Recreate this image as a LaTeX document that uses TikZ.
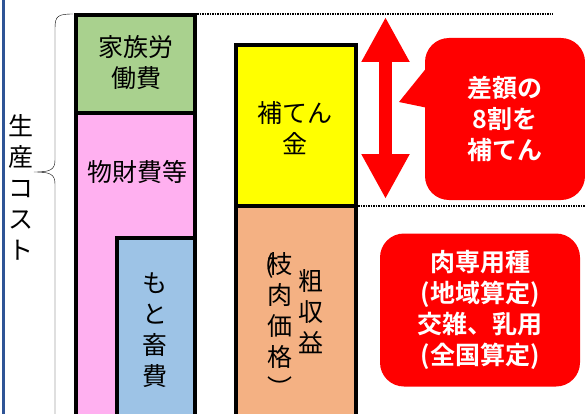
\documentclass[tikz,border=0pt]{standalone}
\usepackage{fontspec}
\setmainfont{Noto Sans CJK JP}[BoldFont={Noto Sans CJK JP Bold}]
\usepackage{xcolor}
\usetikzlibrary{arrows.meta, positioning}
\definecolor{cost_green}{RGB}{169, 209, 142}
\definecolor{cost_pink}{RGB}{255, 176, 240}
\definecolor{cost_blue}{RGB}{157, 195, 230}
\definecolor{aid_yellow}{RGB}{255, 255, 0}
\definecolor{income_orange}{RGB}{244, 177, 131}
\definecolor{note_red}{RGB}{255, 0, 0}
\definecolor{edge_blue}{RGB}{47, 84, 150}
\begin{document}
\begin{tikzpicture}[x=1pt, y=-1pt,
            lbl/.style={align=center, inner sep=0pt,
                        font=\fontsize{25}{31}\selectfont},
            bar/.style={draw=black, line width=4pt},
            note/.style={fill=note_red, rounded corners=24pt, text=white,
                         align=center, inner sep=0pt,
                         font=\fontsize{25}{31}\selectfont\bfseries},
            guide/.style={line width=2pt, dash pattern=on 1.5pt off 1pt}]
            \useasboundingbox (0,0) rectangle (585,414);
            \clip (0,0) rectangle (585,414);
            \draw[line width=3pt, edge_blue] (3.5,0) -- (3.5,414);
            \fill[cost_pink] (76,113) rectangle (195,420);
            \fill[cost_green] (76,15) rectangle (195,113);
            \draw[bar, fill=cost_blue] (116.5,420) -- (116.5,237.5) -- (195,237.5) -- (195,420);
            \draw[bar] (76,113) -- (195,113);
            \draw[bar] (76,420) -- (76,15) -- (195,15) -- (195,420);
            \fill[income_orange] (235.5,205.5) rectangle (355.5,420);
            \fill[aid_yellow] (235.5,45.5) rectangle (355.5,205.5);
            \draw[bar] (235.5,205.5) -- (355.5,205.5);
            \draw[bar] (235.5,420) -- (235.5,45.5) -- (355.5,45.5) -- (355.5,420);
            \draw (73,14) .. controls (58,14) and (55,16) .. (55,28) -- (55,160)
              .. controls (55,170) and (50,172) .. (34,172)
              .. controls (50,172) and (55,174) .. (55,184) -- (55,420);
            \node[lbl] (cost) at (21,187) {生\\産\\コ\\ス\\ト};
            \node[lbl] (labor) at (136,63) {家族労\\働費};
            \node[lbl] (goods) at (137,172) {物財費等};
            \node[lbl] (calf) at (155,330) {も\\と\\畜\\費};
            \node[lbl] (aid) at (295,128) {補てん\\金};
            \node[lbl] (gross) at (311,312) {粗\\収\\益};
            \node[lbl] (carcass) at (280,325) {\rlap{\kern-2pt(}枝\\肉\\価\\格\\︶};
            \coordinate (top_l) at (197,14.5);
            \coordinate (top_r) at (553,14.5);
            \coordinate (mid_l) at (358,206);
            \coordinate (mid_r) at (585,206);
            \draw[guide] (top_l) -- (top_r);
            \draw[guide] (mid_l) -- (mid_r);
            \coordinate (gap_t) at (385.5,17);
            \coordinate (gap_b) at (385.5,199);
            \draw[note_red, line width=13pt,
                  {Triangle[length=45pt, width=45pt]}-{Triangle[length=45pt, width=45pt]}]
              (gap_t) -- (gap_b);
            \node[note, minimum width=160pt, minimum height=162pt] (bubble) at (505,119)
              {差額の\\8割を\\補てん};
            \fill[note_red] (428,66) -- (399,102) -- (428,108) -- cycle;
            \node[note, minimum width=200pt, minimum height=153pt] (breed) at (480,310)
              {肉専用種\\(地域算定)\\交雑、乳用\\(全国算定)};
          \end{tikzpicture}
\end{document}
